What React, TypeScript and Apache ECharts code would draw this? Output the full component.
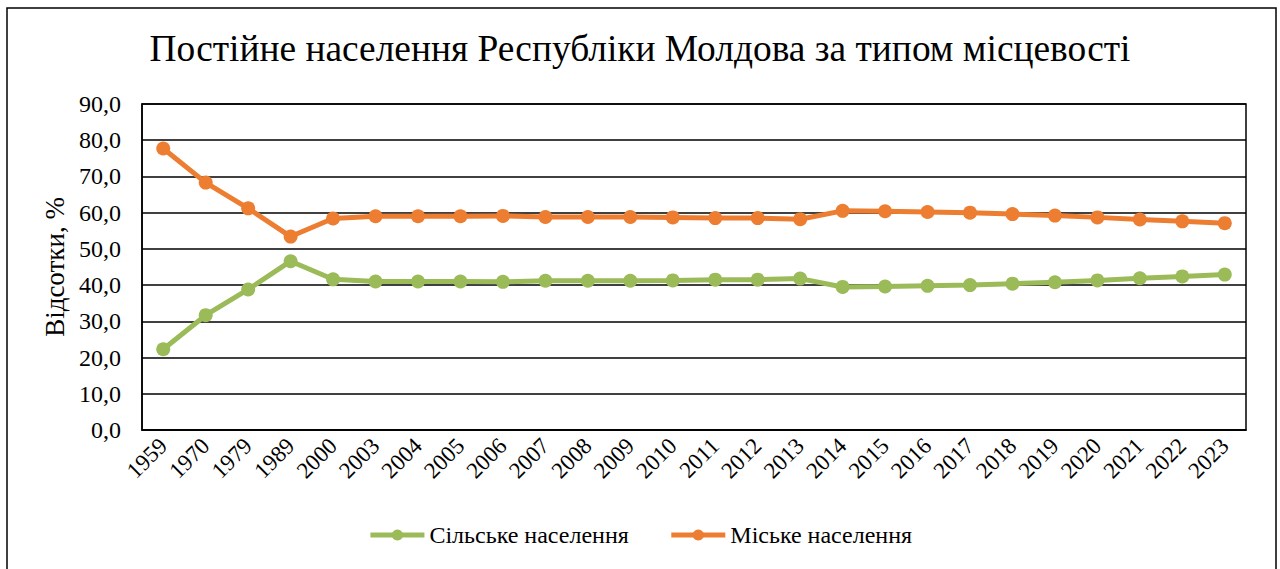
import React, { useEffect, useRef } from "react";
import * as echarts from "echarts";

const years = ["1959", "1970", "1979", "1989", "2000", "2003", "2004", "2005", "2006", "2007", "2008", "2009", "2010", "2011", "2012", "2013", "2014", "2015", "2016", "2017", "2018", "2019", "2020", "2021", "2022", "2023"];
const rural = [22.3, 31.7, 38.8, 46.6, 41.6, 41.0, 41.0, 41.0, 40.9, 41.2, 41.2, 41.2, 41.3, 41.5, 41.5, 41.8, 39.5, 39.6, 39.8, 40.0, 40.4, 40.8, 41.3, 41.9, 42.4, 42.9];
const urban = [77.7, 68.3, 61.2, 53.4, 58.4, 59.0, 59.0, 59.0, 59.1, 58.8, 58.8, 58.8, 58.7, 58.5, 58.5, 58.2, 60.5, 60.4, 60.2, 60.0, 59.6, 59.2, 58.7, 58.1, 57.6, 57.1];
const seriesNames = ["Сільське населення", "Міське населення"];
const titleText = "Постійне населення Республіки Молдова за типом місцевості";
const yAxisName = "Відсотки, %";

const FONT = "Liberation Serif";

export default function App() {
  const ref = useRef<HTMLDivElement>(null);
  useEffect(() => {
    if (!ref.current) return;
    const chart = echarts.init(ref.current, null, { renderer: "svg" });
    chart.setOption({
      animation: false,
      backgroundColor: "#fff",
      title: {
        text: titleText,
        left: "center",
        top: 25,
        textStyle: { fontFamily: FONT, fontSize: 37.4, fontWeight: "normal", color: "#000" },
      },
      graphic: [
        {
          type: "rect",
          shape: { x: 7, y: 8, width: 1269, height: 600 },
          style: { fill: "none", stroke: "#000", lineWidth: 1.5 },
          silent: true,
        },
      ],
      legend: {
        bottom: 17,
        left: "center",
        itemWidth: 54,
        itemHeight: 14,
        itemGap: 40,
        lineStyle: { width: 5 },
        textStyle: { fontFamily: FONT, fontSize: 24, color: "#000" },
        data: seriesNames,
      },
      grid: {
        left: 142,
        top: 104,
        width: 1104,
        height: 326,
        show: true,
        borderColor: "#000",
        borderWidth: 1.5,
      },
      xAxis: {
        type: "category",
        data: years,
        boundaryGap: true,
        axisLine: { lineStyle: { color: "#000", width: 1.5 } },
        axisTick: { alignWithLabel: true, length: 5, lineStyle: { color: "#000", width: 1.5 } },
        axisLabel: { fontFamily: FONT, fontSize: 23, color: "#000", rotate: 45, margin: 12, interval: 0 },
      },
      yAxis: {
        type: "value",
        min: 0,
        max: 90,
        interval: 10,
        name: yAxisName,
        nameLocation: "middle",
        nameGap: 73,
        nameTextStyle: { fontFamily: FONT, fontSize: 27, color: "#000" },
        axisLine: { show: true, lineStyle: { color: "#000", width: 1.5 } },
        axisTick: { show: false },
        axisLabel: {
          fontFamily: FONT,
          fontSize: 24,
          color: "#000",
          margin: 21,
          formatter: (v: number) => v.toFixed(1).replace(".", ","),
        },
        splitLine: { lineStyle: { color: "#000", width: 1.5 } },
      },
      series: [
        {
          name: seriesNames[0],
          type: "line",
          data: rural,
          symbol: "circle",
          symbolSize: 14,
          lineStyle: { color: "#9BBB59", width: 5 },
          itemStyle: { color: "#9BBB59" },
        },
        {
          name: seriesNames[1],
          type: "line",
          data: urban,
          symbol: "circle",
          symbolSize: 14,
          lineStyle: { color: "#ED7D31", width: 5 },
          itemStyle: { color: "#ED7D31" },
        },
      ],
    });
    return () => chart.dispose();
  }, []);
  return (
    <div
      ref={ref}
      style={{ position: "fixed", left: 0, top: 0, width: 1280, height: 569 }}
    />
  );
}
